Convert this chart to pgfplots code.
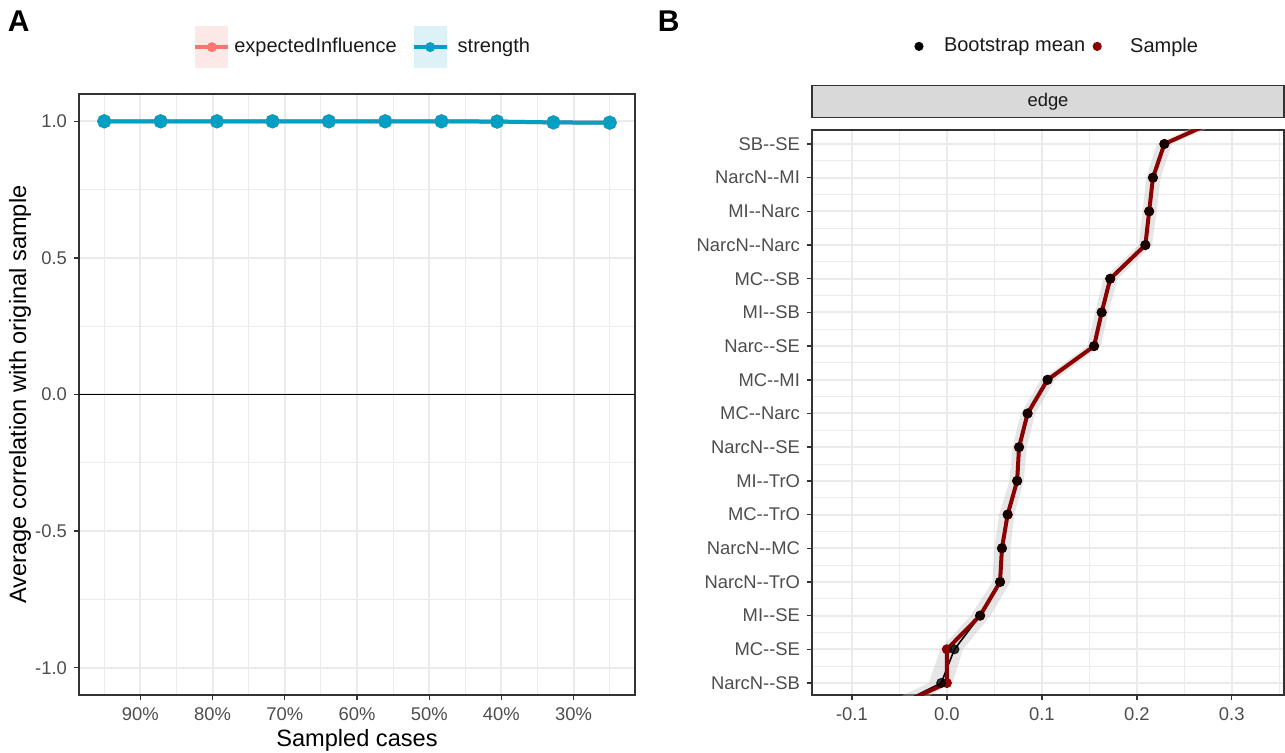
\documentclass[border=0pt]{standalone}
\usepackage{fontspec}
\setmainfont{Liberation Sans}
\usepackage{pgfplots}
\pgfplotsset{compat=1.18}
\usepackage{pgfplotstable}

\definecolor{eired}{HTML}{F8766D}
\definecolor{eibg}{HTML}{FCE9E7}
\definecolor{stteal}{HTML}{00A0C4}
\definecolor{stbg}{HTML}{DDF2F7}
\definecolor{smpred}{HTML}{8B0000}
\definecolor{gridc}{HTML}{EBEBEB}
\definecolor{g20}{HTML}{333333}
\definecolor{g30}{HTML}{4D4D4D}
\definecolor{g10}{HTML}{1A1A1A}
\definecolor{stripc}{HTML}{D9D9D9}
\definecolor{ribc}{HTML}{BEBEBE}

\newcommand\ticksize{\fontsize{9.2}{11}\selectfont}
\newcommand\titlesize{\fontsize{11.8}{13.5}\selectfont}
\newcommand\legsize{\fontsize{10}{12}\selectfont}

% Panel A: stability (correlation with original sample)
\pgfplotstableread{
prop ei st
0.950 1.000 1.000
0.872 1.000 1.000
0.794 1.000 1.000
0.717 1.000 1.000
0.639 1.000 1.000
0.561 1.000 1.000
0.483 1.000 1.000
0.406 0.999 0.999
0.328 0.996 0.996
0.250 0.995 0.995
}\stabtab

% Panel B: edges (row 1 = NarcN--SB ... row 17 = SB--SE; rows 0, 18 lie beyond the shown range)
\pgfplotstableread{
row mean sample
0 -0.077 -0.077
1 -0.006 0.000
2 0.008 0.000
3 0.035 0.035
4 0.056 0.056
5 0.058 0.058
6 0.064 0.064
7 0.074 0.074
8 0.076 0.076
9 0.085 0.085
10 0.106 0.106
11 0.155 0.155
12 0.163 0.163
13 0.172 0.172
14 0.209 0.209
15 0.213 0.213
16 0.217 0.217
17 0.229 0.229
18 0.308 0.308
}\edgetab

% Bootstrap band: lower bound going up, upper bound coming back down
\pgfplotstableread{
x row
-0.095 0
-0.019 1
-0.007 2
0.025 3
0.048 4
0.050 5
0.055 6
0.066 7
0.069 8
0.078 9
0.099 10
0.148 11
0.156 12
0.165 13
0.202 14
0.206 15
0.210 16
0.221 17
0.298 18
0.318 18
0.237 17
0.225 16
0.221 15
0.216 14
0.180 13
0.170 12
0.162 11
0.114 10
0.093 9
0.084 8
0.081 7
0.071 6
0.067 5
0.067 4
0.046 3
0.017 2
0.006 1
-0.058 0
}\bandtab

\pgfplotsset{
  ggbase/.style={
    scale only axis,
    grid=both,
    major grid style={gridc, line width=1pt},
    minor grid style={gridc, line width=0.5pt},
    axis line style={g20, line width=0.7pt},
    tick align=outside, tick pos=left,
    major tick length=2.5pt, minor tick length=0pt,
    every tick/.style={g20, line width=0.7pt},
    ticklabel style={font=\ticksize, text=g30},
    xticklabel style={yshift=-0.5pt},
    legend cell align=left,
  }
}

\begin{document}
\begin{tikzpicture}
\useasboundingbox (0,0) rectangle (642.5pt,-376.5pt);

\node[font=\fontsize{15}{17}\selectfont\bfseries, anchor=center] at (9.3pt,-10.7pt) {A};
\node[font=\fontsize{15}{17}\selectfont\bfseries, anchor=center] at (334.3pt,-10.7pt) {B};

\begin{axis}[
  ggbase,
  at={(39.5pt,-47pt)}, anchor=north west,
  width=278pt, height=300.5pt,
  xmin=0.215, xmax=0.985, x dir=reverse,
  ymin=-1.1, ymax=1.1,
  xtick={0.3,0.4,0.5,0.6,0.7,0.8,0.9},
  xticklabels={30\%,40\%,50\%,60\%,70\%,80\%,90\%},
  minor xtick={0.25,0.35,0.45,0.55,0.65,0.75,0.85,0.95},
  ytick={-1,-0.5,0,0.5,1},
  yticklabels={-1.0,-0.5,0.0,0.5,1.0},
  minor ytick={-0.75,-0.25,0.25,0.75},
  xlabel={Sampled cases},
  ylabel={Average correlation with original sample},
  xlabel style={font=\titlesize, text=black, at={(axis description cs:0.5,-0.0749)}, anchor=center},
  ylabel style={font=\titlesize, text=black, at={(axis description cs:-0.1061,0.5)}, anchor=center},
  legend style={at={(axis description cs:0.512,1.078)}, anchor=center, draw=none, fill=none,
    legend columns=2, font=\legsize, text=g10, column sep=0pt},
]
\addlegendimage{legend image code/.code={
  \fill[eibg, draw=none] (0pt,-10.5pt) rectangle (16.5pt,10.5pt);
  \draw[eired, line width=2pt] (0pt,0pt) -- (16.5pt,0pt);
  \fill[eired, draw=none] (8.25pt,0pt) circle (2.5pt);}}
\addlegendentry{expectedInfluence\kern5.5pt}
\addlegendimage{legend image code/.code={
  \fill[stbg, draw=none] (0pt,-10.5pt) rectangle (16.5pt,10.5pt);
  \draw[stteal, line width=2pt] (0pt,0pt) -- (16.5pt,0pt);
  \fill[stteal, draw=none] (8.25pt,0pt) circle (2.5pt);}}
\addlegendentry{\kern2.5pt strength}

\addplot[black, line width=0.8pt, forget plot] coordinates {(0.215,0) (0.985,0)};
\addplot[eired, line width=2pt, mark=*, mark size=2.5pt, forget plot] table[x=prop, y=ei] {\stabtab};
\addplot[stteal, line width=2pt, mark=*, mark size=2.5pt, forget plot] table[x=prop, y=st] {\stabtab};
\end{axis}

\begin{axis}[
  ggbase,
  at={(406pt,-65pt)}, anchor=north west,
  width=236pt, height=282.5pt,
  xmin=-0.142, xmax=0.355,
  ymin=0.644, ymax=17.415,
  xtick={-0.1,0,0.1,0.2,0.3},
  xticklabels={-0.1,0.0,0.1,0.2,0.3},
  minor xtick={-0.05,0.05,0.15,0.25,0.35},
  ytick={1,2,3,4,5,6,7,8,9,10,11,12,13,14,15,16,17},
  yticklabels={NarcN-{}-SB,MC-{}-SE,MI-{}-SE,NarcN-{}-TrO,NarcN-{}-MC,MC-{}-TrO,MI-{}-TrO,NarcN-{}-SE,MC-{}-Narc,MC-{}-MI,Narc-{}-SE,MI-{}-SB,MC-{}-SB,NarcN-{}-Narc,MI-{}-Narc,NarcN-{}-MI,SB-{}-SE},
  minor ytick={1.5,2.5,3.5,4.5,5.5,6.5,7.5,8.5,9.5,10.5,11.5,12.5,13.5,14.5,15.5,16.5},
  title={edge},
  title style={at={(axis description cs:0.5,1)}, anchor=south, fill=stripc, draw=g20, line width=0.7pt,
    minimum width=236pt, minimum height=16pt, inner sep=0pt, font=\ticksize, text=g10},
  legend style={at={(axis description cs:0.518,1.148)}, anchor=center, draw=none, fill=none,
    legend columns=2, font=\legsize, text=g10, column sep=0pt},
]
\addlegendimage{legend image code/.code={
  \path[draw=none, fill=none] (0pt,-5pt) rectangle (14.5pt,5pt);
  \fill[black, draw=none] (4pt,0pt) circle (2.3pt);}}
\addlegendentry{Bootstrap mean}
\addlegendimage{legend image code/.code={
  \path[draw=none, fill=none] (0pt,-5pt) rectangle (14.5pt,5pt);
  \fill[smpred, draw=none] (4pt,0pt) circle (2.3pt);}}
\addlegendentry{\kern4pt Sample}

\addplot[fill=ribc, fill opacity=0.38, draw=none, forget plot] table[x=x, y=row] {\bandtab} -- cycle;
\addplot[black, line width=0.8pt, forget plot] table[x=mean, y=row] {\edgetab};
\addplot[smpred, line width=2pt, forget plot] table[x=sample, y=row] {\edgetab};
\addplot[only marks, mark=*, mark size=2.3pt, smpred, forget plot, restrict y to domain=0.5:17.5] table[x=sample, y=row] {\edgetab};
\addplot[only marks, mark=*, mark size=2.3pt, black, opacity=0.8, forget plot, restrict y to domain=0.5:17.5] table[x=mean, y=row] {\edgetab};
\end{axis}
\end{tikzpicture}
\end{document}
